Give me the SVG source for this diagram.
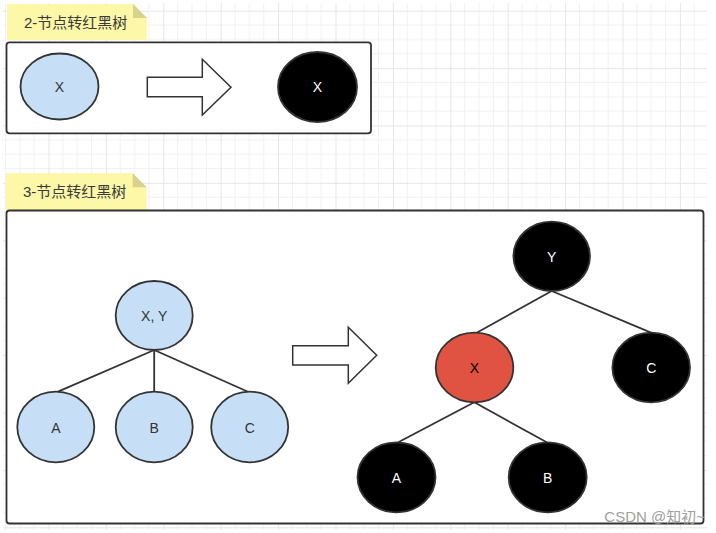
<svg xmlns="http://www.w3.org/2000/svg" width="716" height="533" viewBox="0 0 716 533">
<defs>
<pattern id="grid" patternUnits="userSpaceOnUse" x="-8.9" y="10.7" width="57.4" height="57.4">
<path d="M14.35 0V57.4M28.7 0V57.4M43.05 0V57.4M0 14.35H57.4M0 28.7H57.4M0 43.05H57.4" stroke="#f1f1f1" stroke-width="1" fill="none"/>
<path d="M0.5 0V57.4M0 0.5H57.4" stroke="#e6e6e6" stroke-width="1" fill="none"/>
</pattern>
<style>
.frame{fill:#fff;stroke:#333;stroke-width:1.8}
.note{fill:#fdf7a8}
.fold{fill:#d8d28c}
.ntxt{font-family:"Liberation Sans","Noto Sans CJK SC",sans-serif;font-size:15px;fill:#3a3a3a}
.blue{fill:#c6dff7;stroke:#333;stroke-width:1.8}
.black{fill:#000;stroke:#333;stroke-width:1.8}
.red{fill:#e05343;stroke:#333;stroke-width:1.8}
.lbl{font-family:"Liberation Sans",Arial,sans-serif;font-size:14px;text-anchor:middle;dominant-baseline:central}
.dk{fill:#333}
.wt{fill:#fff}
.bx{fill:#000}
.arrow{fill:#fff;stroke:#333;stroke-width:1.5}
.edge{stroke:#333;stroke-width:1.8;fill:none}
.wm{font-family:"Liberation Sans","Noto Sans CJK SC",sans-serif;font-size:15px;fill:#a0a0a0;text-anchor:end}
</style>
</defs>
<rect x="0" y="0" width="716" height="533" fill="#fff"/>
<rect x="3" y="3" width="704" height="527" fill="url(#grid)"/>

<g id="note1">
<polygon class="note" points="7,4 133,4 147,18 147,40 7,40"/>
<polygon class="fold" points="133,4 133,18 147,18"/>
<text class="ntxt" x="24" y="28">2-节点转红黑树</text>
</g>
<g id="frame1"><rect class="frame" x="6.5" y="42.3" width="364.5" height="91" rx="3"/></g>

<g id="n2x"><ellipse class="blue" cx="59.5" cy="86.5" rx="39" ry="33"/><text class="lbl dk" x="59.5" y="87">X</text></g>
<g id="arrow1"><polygon class="arrow" points="147.3,77.3 202.3,77.3 202.3,59.3 231,87.3 202.3,115 202.3,96.7 147.3,96.7"/></g>
<g id="n2xb"><ellipse class="black" cx="317.5" cy="87" rx="39.5" ry="35"/><text class="lbl wt" x="317.5" y="87">X</text></g>

<g id="note2">
<polygon class="note" points="6,173.3 132.7,173.3 146.7,187.3 146.7,210 6,210"/>
<polygon class="fold" points="132.7,173.3 132.7,187.3 146.7,187.3"/>
<text class="ntxt" x="23" y="197">3-节点转红黑树</text>
</g>
<g id="frame2"><rect class="frame" x="6.5" y="210.5" width="697" height="313" rx="3"/></g>

<g id="connectors">
<line class="edge" x1="154.2" y1="350" x2="58" y2="391.7"/>
<line class="edge" x1="154.2" y1="350" x2="154.2" y2="392"/>
<line class="edge" x1="154.2" y1="350" x2="248" y2="391.7"/>
<line class="edge" x1="551.7" y1="291" x2="476.7" y2="332.7"/>
<line class="edge" x1="551.7" y1="291" x2="651" y2="332.7"/>
<line class="edge" x1="474.3" y1="402.3" x2="398.3" y2="442.3"/>
<line class="edge" x1="474.3" y1="402.3" x2="546.7" y2="442.3"/>
</g>

<g id="n3xy"><ellipse class="blue" cx="154.2" cy="315.5" rx="38.5" ry="34.5"/><text class="lbl dk" x="154.2" y="316">X, Y</text></g>
<g id="n3a"><ellipse class="blue" cx="55.8" cy="427" rx="38.5" ry="35.3"/><text class="lbl dk" x="55.8" y="427.5">A</text></g>
<g id="n3b"><ellipse class="blue" cx="154.2" cy="427" rx="38.5" ry="35.3"/><text class="lbl dk" x="154.2" y="427.5">B</text></g>
<g id="n3c"><ellipse class="blue" cx="249.7" cy="427" rx="38.5" ry="35.3"/><text class="lbl dk" x="249.7" y="427.5">C</text></g>

<g id="arrow2"><polygon class="arrow" points="292.7,345.7 348.3,345.7 348.3,327.3 376.7,355.3 348.3,383.3 348.3,365 292.7,365"/></g>

<g id="rby"><ellipse class="black" cx="551.7" cy="256.3" rx="38.3" ry="34.7"/><text class="lbl wt" x="551.7" y="256.5">Y</text></g>
<g id="rbx"><ellipse class="red" cx="474.5" cy="367.5" rx="38.8" ry="34.8"/><text class="lbl bx" x="474.5" y="368">X</text></g>
<g id="rbc"><ellipse class="black" cx="651.2" cy="367.5" rx="38.8" ry="34.8"/><text class="lbl wt" x="651.2" y="368">C</text></g>
<g id="rba"><ellipse class="black" cx="396.5" cy="477.3" rx="39" ry="35"/><text class="lbl wt" x="396.5" y="477.5">A</text></g>
<g id="rbb"><ellipse class="black" cx="547.7" cy="477.3" rx="39" ry="35"/><text class="lbl wt" x="547.7" y="477.5">B</text></g>

<text class="wm" x="705" y="522">CSDN @知初~</text>
</svg>
